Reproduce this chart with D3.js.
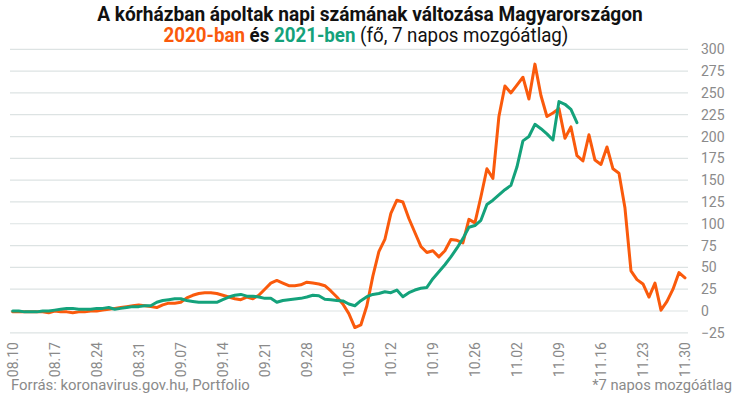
<!DOCTYPE html>
<html><head><meta charset="utf-8">
<script src="https://cdn.jsdelivr.net/npm/d3@7"></script>
<style>
body{margin:0;background:#fff;}
svg{display:block;font-family:Roboto,"Noto Sans",sans-serif;}
</style>
</head><body>
<svg id="c" width="741" height="399"></svg>
<script>
// ---- data ----
const dayStart = "08.10";
const tickLabels = ["08.10","08.17","08.24","08.31","09.07","09.14","09.21","09.28","10.05","10.12","10.19","10.26","11.02","11.09","11.16","11.23","11.30"];
const yTicks = [-25,0,25,50,75,100,125,150,175,200,225,250,275,300];
// 2020: daily values from 08.10 to 11.30
const values2020 = [
 -1,-1,-1,-1,-1,-1,-2,0,-1,-1,
 -2,-1,-1,0,0,1,2,3,4,5,
 6,7,6,5,4,7,9,9,10,15,
 18,20,21,21,20,18,16,14,13,16,
 14,18,25,32,35,32,29,29,30,33,
 32,31,29,23,16,8,-3,-19,-16,6,
 40,68,82,112,127,125,106,90,74,67,
 69,62,69,82,81,78,105,101,131,163,
 152,223,258,250,259,268,243,283,247,223,
 227,232,198,211,178,172,202,173,168,188,
 163,158,118,46,36,31,16,32,1,11,
 25,44,38
];
// 2021: daily values from 08.10 to 11.12
const values2021 = [
 0,0,-1,-1,-1,0,0,1,2,3,
 3,2,2,2,3,3,4,2,3,4,
 5,5,6,6,10,12,13,14,14,12,
 11,10,10,10,10,13,16,18,19,17,
 17,16,14.5,14.5,10,12,13,13.7,14.5,16,
 18,17.5,13.4,13,12,11.5,8,6,11.8,16.4,
 19,20,22,21,24,16.4,21,24,26,27,
 37,45,53,62,72,83,96,98,104,122,
 127,133,139,144,165,195,200,214,209,203,
 196,240,237,231,216
];
const series = [
  {name:"2020", values: values2020, color:"#fa5a0c"},
  {name:"2021", values: values2021, color:"#14a27b"}
];

// ---- chart ----
const svg = d3.select("#c");
const x = d3.scaleLinear().domain([0,112]).range([12.7,685]);
const y = d3.scaleLinear().domain([-25,300]).range([332.8,49.3]);

// gridlines
svg.append("g").selectAll("line").data(yTicks).join("line")
  .attr("x1",10).attr("x2",688)
  .attr("y1",d=>y(d)).attr("y2",d=>y(d))
  .attr("stroke","#dde3e3").attr("stroke-width",1.2);

// y axis (right)
const yAxis = d3.axisRight(y).tickValues(yTicks).tickSize(0).tickPadding(0);
const gy = svg.append("g").attr("transform","translate(701,0)").call(yAxis);
gy.select(".domain").remove();
gy.selectAll("text").attr("font-size",14).attr("fill","#8a8a8a")
  .attr("font-family","Roboto").attr("dy","0.32em");

// x axis labels (rotated)
const xAxis = d3.axisBottom(x).tickValues(tickLabels.map((t,i)=>i*7))
  .tickFormat((d,i)=>tickLabels[i]).tickSize(0).tickPadding(0);
const gx = svg.append("g").attr("transform","translate(0,342)").call(xAxis);
gx.select(".domain").remove();
gx.selectAll("text").attr("font-size",14).attr("fill","#8a8a8a")
  .attr("font-family","Roboto")
  .attr("transform","rotate(-90)")
  .attr("text-anchor","end").attr("x",0).attr("y",0).attr("dy","0.35em");

// lines
const line = d3.line().x((d,i)=>x(i)).y(d=>y(d));
svg.append("g").selectAll("path").data(series).join("path")
  .attr("d",s=>line(s.values))
  .attr("fill","none").attr("stroke",s=>s.color)
  .attr("stroke-width",3).attr("stroke-linejoin","round").attr("stroke-linecap","round");

// ---- titles ----
function fit(sel, target){
  const w = sel.node().getComputedTextLength();
  return target / w;
}
const t1 = svg.append("g");
const t1t = t1.append("text").attr("text-anchor","middle").attr("font-size",20)
  .attr("font-weight","bold").attr("fill","#111")
  .text("A kórházban ápoltak napi számának változása Magyarországon");
const s1 = fit(t1t, 546);
t1.attr("transform",`translate(370,21) scale(${s1},1)`);

const t2 = svg.append("g");
const t2t = t2.append("text").attr("text-anchor","middle").attr("font-size",20).attr("fill","#111");
t2t.append("tspan").attr("font-weight","bold").attr("fill",series[0].color).text("2020-ban");
t2t.append("tspan").attr("font-weight","bold").text(" és ");
t2t.append("tspan").attr("font-weight","bold").attr("fill",series[1].color).text("2021-ben");
t2t.append("tspan").text(" (fő, 7 napos mozgóátlag)");
t2.attr("transform",`translate(366,42) scale(${fit(t2t,405)},1)`);

// footers
const f1 = svg.append("g");
const f1t = f1.append("text").attr("font-size",15).attr("fill","#8a8a8a")
  .text("Forrás: koronavirus.gov.hu, Portfolio");
f1.attr("transform",`translate(11,390) scale(${fit(f1t,239)},1)`);
const f2 = svg.append("g");
const f2t = f2.append("text").attr("font-size",15).attr("fill","#8a8a8a").attr("text-anchor","end")
  .text("*7 napos mozgóátlag");
f2.attr("transform",`translate(732,390) scale(${fit(f2t,140)},1)`);
</script>
</body></html>
